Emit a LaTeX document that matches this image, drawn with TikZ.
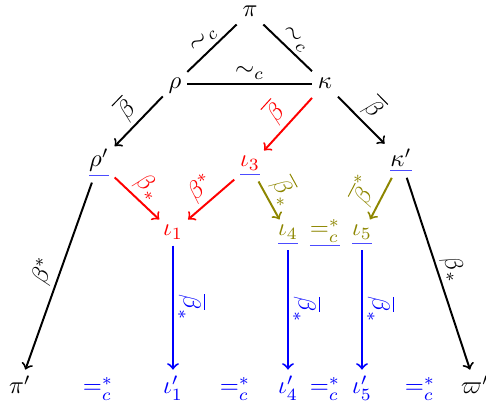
\documentclass[tikz,border=0pt]{standalone}

\newcommand{\blueul}[2]{\textcolor{blue!70}{\underline{\textcolor{#1}{$#2$}}}}

\begin{document}
\begin{tikzpicture}[x=0.0143cm, y=-0.0143cm, thick,
  vert/.style={anchor=base, inner sep=2pt},
  topv/.style={vert, text height=1.5ex, text depth=.5ex},
  lbl/.style={above, sloped, inner sep=1.5pt}]

  \useasboundingbox (0,0) rectangle (486,410);

  % top triangle
  \node[topv] (pi) at (250,17) {$\pi$};
  \node[topv] (rho) at (175,89) {$\rho$};
  \node[topv] (kappa) at (325,89) {$\kappa$};

  % second level
  \node[vert] (rhop) at (99,167) {\blueul{black}{\rho'}};
  \node[vert] (io3) at (250,167) {\blueul{red}{\iota_3}};
  \node[vert] (kappap) at (401,167) {\blueul{black}{\kappa'}};

  % third level
  \node[vert, red] (io1) at (173,236) {$\iota_1$};
  \node[vert] (io4) at (288,236) {\blueul{olive}{\iota_4}};
  \node[vert] (eqo) at (325,236) {\blueul{olive}{=^*_c}};
  \node[vert] (io5) at (362,236) {\blueul{olive}{\iota_5}};

  % bottom row
  \node[vert] (pip) at (20,394) {$\pi'$};
  \node[vert, blue] (io1p) at (173,394) {$\iota'_1$};
  \node[vert, blue] (io4p) at (288,394) {$\iota'_4$};
  \node[vert, blue] (io5p) at (362,394) {$\iota'_5$};
  \node[vert] (varpip) at (475,394) {$\varpi'$};
  \foreach \n/\x in {eqA/98, eqB/235, eqC/325, eqD/420} {
    \node[vert, blue] (\n) at (\x,394) {$=^*_c$};
  }

  \draw (pi) -- node[lbl] {$\sim_c$} (rho);
  \draw (pi) -- node[lbl] {$\sim_c$} (kappa);
  \draw (rho) -- node[lbl] {$\sim_c$} (kappa);

  \draw[->] (rho) -- node[lbl] {$\overline{\beta}$} (rhop);
  \draw[->] (kappa) -- node[lbl] {$\overline{\beta}$} (kappap);
  \draw[->, red] (kappa) -- node[lbl] {$\overline{\beta}$} (io3);

  \draw[->, red] (rhop) -- node[lbl] {$\beta_*$} (io1);
  \draw[->, red] (io3) -- node[lbl] {$\beta^*$} (io1);
  \draw[->, olive] (io3) -- node[lbl] {$\overline{\beta}_*$} (io4);
  \draw[->, olive] (kappap) -- node[lbl] {$\overline{\beta}^*$} (io5);

  \draw[->] (rhop) -- node[lbl] {$\beta^*$} (pip);
  \draw[->] (kappap) -- node[lbl] {$\beta_*$} (varpip);

  \foreach \a/\b in {io1/io1p, io4/io4p, io5/io5p} {
    \draw[->, blue] (\a) -- node[lbl] {$\overline{\beta}_*$} (\b);
  }

\end{tikzpicture}
\end{document}
